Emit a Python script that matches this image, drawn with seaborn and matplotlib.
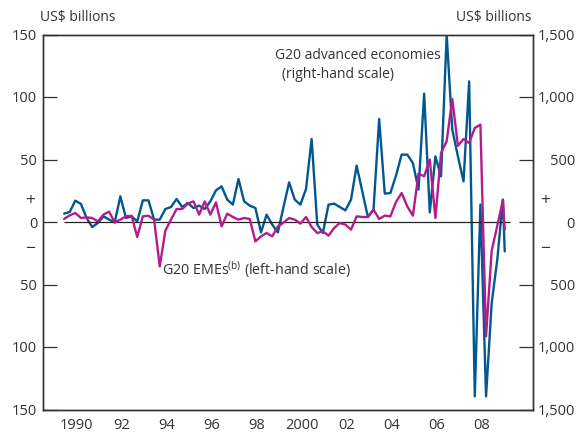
import numpy as np
import pandas as pd
import matplotlib
matplotlib.use("Agg")
import matplotlib.pyplot as plt
import seaborn as sns

# ---------------- data ----------------
# quarterly observations (decimal-year positions) plus a final partial point
quarter_dates = list(1989.95 + 0.25 * np.arange(79)) + [2009.53]

# G20 advanced economies, US$ billions (right-hand scale)
advanced = [67, 80, 171, 144, 32, -40, -8, 45, 19, -3,
            205, 32, 45, 5, 173, 173, 19, 19, 104, 120,
            184, 120, 152, 112, 131, 104, 165, 253, 285, 179,
            139, 344, 165, 131, 112, -83, 59, -21, -83, 120,
            317, 179, 139, 264, 664, -21, -88, 139, 147, 120,
            93, 179, 451, 245, 40, 99, 824, 227, 232, 372,
            539, 539, 472, 259, 1027, 77, 525, 365, 1500, 739,
            525, 325, 1125, -1395, 139, -1395, -650, -300, 180, -235]

# G20 EMEs, US$ billions (left-hand scale)
emes = [2.4, 5.3, 7.2, 3.2, 3.7, 3.2, 0.5, 5.9, 8.3, -0.3,
        1.9, 4.5, 5.0, -12, 4.5, 5.0, 1.9, -35.5, -7, 1.9,
        10.4, 10.4, 14.7, 16.5, 5.9, 16.5, 5.9, 15.7, -3.5, 6.7,
        4.0, 1.9, 3.2, 2.4, -15.5, -11.5, -8.8, -11.5, -3.5, -0.5,
        3.2, 1.9, -1.3, 4.0, -4.0, -8.8, -7.5, -10.9, -4.8, -0.8,
        -2.1, -6.1, 4.5, 4.0, 4.0, 9.9, 2.4, 5.1, 4.5, 16,
        23.2, 12.5, 5.1, 38.7, 36.5, 49.9, 3.2, 55.2, 64.5, 98.4,
        61, 66.4, 63.2, 75.2, 77.9, -91.5, -23, -3, 17.5, -6.1]

year_ticks = list(range(1990, 2010))
year_label_pos = [1990.5, 1992.5, 1994.5, 1996.5, 1998.5, 2000.5, 2002.5, 2004.5, 2006.5, 2008.5]
year_labels = ["1990", "92", "94", "96", "98", "2000", "02", "04", "06", "08"]
left_ticks = [-150, -100, -50, 0, 50, 100, 150]
left_labels = ["150", "100", "50", "0", "50", "100", "150"]
right_ticks = [-1500, -1000, -500, 0, 500, 1000, 1500]
right_labels = ["1,500", "1,000", "500", "0", "500", "1,000", "1,500"]

df = pd.DataFrame({"date": quarter_dates, "advanced": advanced, "emes": emes})

# ---------------- style ----------------
sns.set_theme(style="white")
plt.rcParams["font.family"] = ["Open Sans", "DejaVu Sans"]
plt.rcParams["mathtext.fontset"] = "custom"
plt.rcParams["mathtext.rm"] = "Open Sans"
plt.rcParams["mathtext.it"] = "Open Sans"

BLUE = "#00588f"
MAGENTA = "#b41c8c"
INK = "#333333"
FS = 10.5
FS_TXT = 10

fig = plt.figure(figsize=(5.78, 4.32), dpi=100)
ax = fig.add_axes([42.7 / 578, 1 - 409.5 / 432, (533.3 - 42.7) / 578, (409.5 - 34.5) / 432])
ax2 = ax.twinx()
ax.set_zorder(ax2.get_zorder() + 1)
ax.patch.set_visible(False)

sns.lineplot(data=df, x="date", y="advanced", ax=ax2, color=BLUE, lw=1.7, legend=False)
sns.lineplot(data=df, x="date", y="emes", ax=ax, color=MAGENTA, lw=1.7, legend=False)
ax.hlines(0, quarter_dates[0], quarter_dates[-1] + 0.25, color="#222222", lw=0.9, zorder=1)

ax.set_xlim(1989, 2010.8)
ax.set_ylim(-150, 150)
ax2.set_ylim(-1500, 1500)

ax.set_xticks(year_ticks)
ax.set_xticklabels([])
ax.set_xticks(year_label_pos, minor=True)
ax.set_xticklabels(year_labels, minor=True, fontsize=FS, color=INK)
ax.tick_params(axis="x", which="major", direction="in", length=10, width=0.9, color=INK)
ax.tick_params(axis="x", which="minor", length=0, pad=6)

ax.set_yticks(left_ticks)
ax.set_yticklabels(left_labels, fontsize=FS, color=INK)
ax.tick_params(axis="y", direction="in", length=10, width=0.9, color=INK, pad=4, left=True)

ax2.set_yticks(right_ticks)
ax2.set_yticklabels(right_labels, fontsize=FS, color=INK)
ax2.tick_params(axis="y", direction="in", length=10, width=0.9, color=INK, pad=30, right=True)
for lab in ax2.get_yticklabels():
    lab.set_horizontalalignment("right")

for a in (ax, ax2):
    a.set_xlabel("")
    a.set_ylabel("")
    for s in a.spines.values():
        s.set_color(INK)
        s.set_linewidth(1.0)

# plus / minus signs
for yv, sign in ((17, "+"), (-21.4, "\u2212")):
    ax.annotate(sign, xy=(0, yv), xycoords=("axes fraction", "data"), xytext=(-9, 0),
                textcoords="offset points", ha="center", va="center", fontsize=12.5, color=INK)
    ax.annotate(sign, xy=(1, yv), xycoords=("axes fraction", "data"), xytext=(8.4, 0),
                textcoords="offset points", ha="center", va="center", fontsize=12.5, color=INK)

fig.text(40 / 578, 1 - 18 / 432, "US$ billions", ha="left", va="center", fontsize=FS_TXT, color=INK)
fig.text(531 / 578, 1 - 18 / 432, "US$ billions", ha="right", va="center", fontsize=FS_TXT, color=INK)

ax.text(1999.31, 133, "G20 advanced economies", ha="left", va="center", fontsize=FS_TXT, color=INK)
ax.text(1999.62, 118, "(right-hand scale)", ha="left", va="center", fontsize=FS_TXT, color=INK)
ax.text(1994.29, -38.2, r"G20 EMEs$^{\mathrm{(b)}}$ (left-hand scale)", ha="left", va="center",
        fontsize=FS_TXT + 0.3, color=INK)

fig.savefig("out.png", dpi=100)
